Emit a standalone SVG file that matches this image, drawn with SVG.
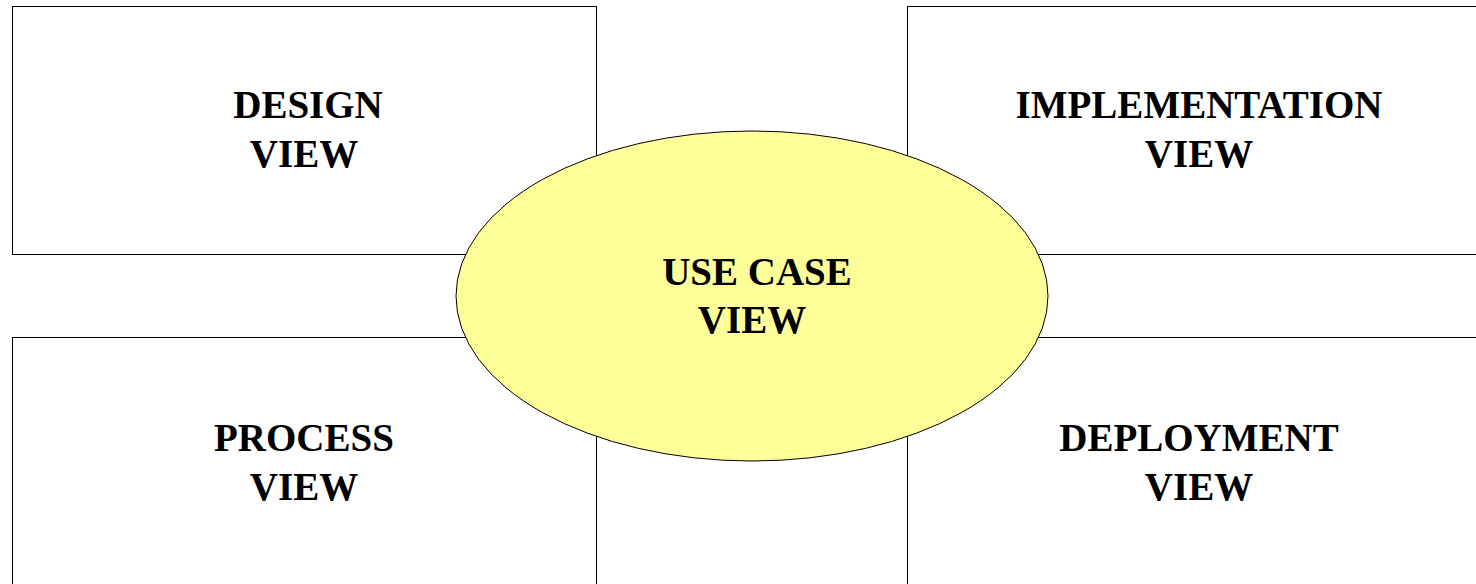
<svg xmlns="http://www.w3.org/2000/svg" width="1476" height="584" viewBox="0 0 1476 584">
  <style>
    .view { fill: #ffffff; stroke: #000000; stroke-width: 1; }
    .hub { fill: #ffff99; stroke: #000000; stroke-width: 1; }
    .label { font-family: "Liberation Serif", "Times New Roman", serif; font-weight: bold; font-size: 39px; fill: #000000; text-anchor: middle; }
  </style>
  <rect width="1476" height="584" fill="#ffffff"/>

  <g id="design-view">
    <rect class="view" x="12.5" y="6.5" width="584" height="248"/>
    <text class="label" x="308" y="118">DESIGN</text>
    <text class="label" x="304" y="167">VIEW</text>
  </g>

  <g id="implementation-view">
    <rect class="view" x="907.5" y="6.5" width="584" height="248"/>
    <text class="label" x="1199" y="118">IMPLEMENTATION</text>
    <text class="label" x="1199" y="167">VIEW</text>
  </g>

  <g id="process-view">
    <rect class="view" x="12.5" y="337.5" width="584" height="260"/>
    <text class="label" x="304" y="451">PROCESS</text>
    <text class="label" x="304" y="500">VIEW</text>
  </g>

  <g id="deployment-view">
    <rect class="view" x="907.5" y="337.5" width="584" height="260"/>
    <text class="label" x="1199" y="451">DEPLOYMENT</text>
    <text class="label" x="1199" y="500">VIEW</text>
  </g>

  <g id="use-case-view">
    <ellipse class="hub" cx="752" cy="296" rx="296" ry="165"/>
    <text class="label" x="757" y="285">USE CASE</text>
    <text class="label" x="752" y="333">VIEW</text>
  </g>

  <g id="connectors"></g>
</svg>
